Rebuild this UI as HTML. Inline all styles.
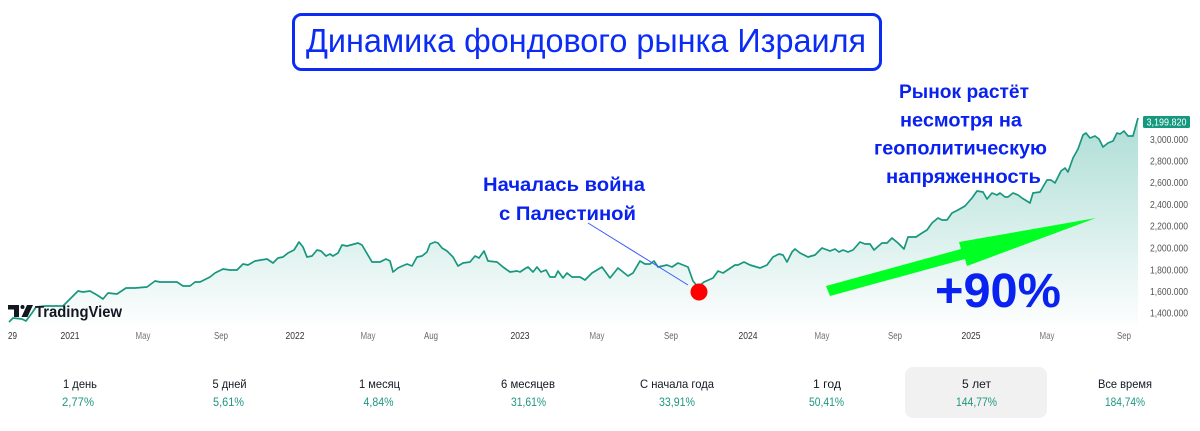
<!DOCTYPE html>
<html><head><meta charset="utf-8"><style>
html,body{margin:0;padding:0;background:#fff;}
svg{display:block;}
text{font-family:"Liberation Sans","DejaVu Sans",sans-serif;}
</style></head><body>
<svg width="1200" height="431" viewBox="0 0 1200 431" xmlns="http://www.w3.org/2000/svg">
<defs>
<linearGradient id="g" x1="0" y1="118" x2="0" y2="325" gradientUnits="userSpaceOnUse">
<stop offset="0" stop-color="#089981" stop-opacity="0.33"/>
<stop offset="1" stop-color="#089981" stop-opacity="0.01"/>
</linearGradient>
</defs>
<rect width="1200" height="431" fill="#fff"/>

<!-- area -->
<path fill="url(#g)" d="M9,322 L13,318 22,319 26,321 32,313 36,307 45,306 55,306 63,306 72,297 78,291 83,292 90,291 97,295 103,299 108,293 117,294 126,288 135,288 147,287 155,281 160,282 177,282 183,286 190,286 195,282 200,282 210,277 215,273 223,269 230,270 237,270 243,264 248,265 255,261 267,259 273,263 278,258 283,257 288,253 294,250 299,242 303,247 307,257 312,256 317,250 321,251 326,256 330,254 333,256 338,253 342,245 347,246 358,243 362,245 372,262 380,262 386,259 390,261 393,272 398,268 400,267 407,264 412,266 417,257 422,256 427,252 430,244 435,242 438,243 442,248 447,251 453,257 458,266 463,263 470,262 475,256 479,258 484,251 488,261 497,262 503,267 510,272 517,271 520,272 526,268 528,267 533,272 537,267 541,272 546,270 550,277 555,277 558,271 563,278 567,273 572,277 580,277 585,280 592,273 602,267 610,278 618,268 628,276 633,273 640,261 645,264 650,264 654,261 658,267 667,265 672,267 678,263 683,265 688,267 693,281 698,287 704,282 713,278 718,271 723,273 735,265 738,265 744,262 750,265 760,268 767,265 773,257 779,254 783,255 787,262 792,252 795,249 800,253 808,257 815,255 822,248 830,251 835,249 839,252 843,250 848,252 853,250 860,242 865,244 870,244 874,250 882,243 887,243 892,238 898,243 904,249 908,237 916,237 922,233 927,230 932,223 938,218 942,220 947,220 952,213 958,210 965,206 972,198 977,191 983,192 987,199 992,193 997,195 1000,193 1005,197 1008,197 1013,193 1018,195 1022,198 1030,203 1033,193 1040,192 1047,180 1051,180 1055,183 1061,171 1065,168 1068,172 1073,158 1078,149 1083,135 1086,133 1090,138 1095,136 1099,139 1103,147 1108,143 1113,141 1117,133 1120,134 1124,131 1128,136 1133,136 1138,118 L1138,325 L9,325 Z"/>
<!-- line -->
<path fill="none" stroke="#17977e" stroke-width="1.7" stroke-linejoin="round" d="M9,322 L13,318 22,319 26,321 32,313 36,307 45,306 55,306 63,306 72,297 78,291 83,292 90,291 97,295 103,299 108,293 117,294 126,288 135,288 147,287 155,281 160,282 177,282 183,286 190,286 195,282 200,282 210,277 215,273 223,269 230,270 237,270 243,264 248,265 255,261 267,259 273,263 278,258 283,257 288,253 294,250 299,242 303,247 307,257 312,256 317,250 321,251 326,256 330,254 333,256 338,253 342,245 347,246 358,243 362,245 372,262 380,262 386,259 390,261 393,272 398,268 400,267 407,264 412,266 417,257 422,256 427,252 430,244 435,242 438,243 442,248 447,251 453,257 458,266 463,263 470,262 475,256 479,258 484,251 488,261 497,262 503,267 510,272 517,271 520,272 526,268 528,267 533,272 537,267 541,272 546,270 550,277 555,277 558,271 563,278 567,273 572,277 580,277 585,280 592,273 602,267 610,278 618,268 628,276 633,273 640,261 645,264 650,264 654,261 658,267 667,265 672,267 678,263 683,265 688,267 693,281 698,287 704,282 713,278 718,271 723,273 735,265 738,265 744,262 750,265 760,268 767,265 773,257 779,254 783,255 787,262 792,252 795,249 800,253 808,257 815,255 822,248 830,251 835,249 839,252 843,250 848,252 853,250 860,242 865,244 870,244 874,250 882,243 887,243 892,238 898,243 904,249 908,237 916,237 922,233 927,230 932,223 938,218 942,220 947,220 952,213 958,210 965,206 972,198 977,191 983,192 987,199 992,193 997,195 1000,193 1005,197 1008,197 1013,193 1018,195 1022,198 1030,203 1033,193 1040,192 1047,180 1051,180 1055,183 1061,171 1065,168 1068,172 1073,158 1078,149 1083,135 1086,133 1090,138 1095,136 1099,139 1103,147 1108,143 1113,141 1117,133 1120,134 1124,131 1128,136 1133,136 1138,118"/>

<!-- TradingView logo -->
<g fill="#131722">
<path d="M8,305 H19 V317 H14 V309.5 H8 Z"/>
<circle cx="22.5" cy="307" r="2"/>
<path d="M27,305 H33 L27.5,317 H21.5 Z"/>
</g>
<text x="35" y="317" font-size="16" font-weight="bold" fill="#131722" textLength="87" lengthAdjust="spacingAndGlyphs">TradingView</text>

<!-- Y axis -->
<g font-size="10" fill="#555" text-anchor="end">
<text x="1188" y="143" textLength="38" lengthAdjust="spacingAndGlyphs">3,000.000</text>
<text x="1188" y="164.5" textLength="38" lengthAdjust="spacingAndGlyphs">2,800.000</text>
<text x="1188" y="186" textLength="38" lengthAdjust="spacingAndGlyphs">2,600.000</text>
<text x="1188" y="208" textLength="38" lengthAdjust="spacingAndGlyphs">2,400.000</text>
<text x="1188" y="229.5" textLength="38" lengthAdjust="spacingAndGlyphs">2,200.000</text>
<text x="1188" y="251.5" textLength="38" lengthAdjust="spacingAndGlyphs">2,000.000</text>
<text x="1188" y="273.5" textLength="38" lengthAdjust="spacingAndGlyphs">1,800.000</text>
<text x="1188" y="295" textLength="38" lengthAdjust="spacingAndGlyphs">1,600.000</text>
<text x="1188" y="316.5" textLength="38" lengthAdjust="spacingAndGlyphs">1,400.000</text>
</g>
<rect x="1143" y="116" width="47" height="12" rx="1.5" fill="#14997f"/>
<text x="1166.5" y="125.5" font-size="10" fill="#fff" text-anchor="middle" textLength="40" lengthAdjust="spacingAndGlyphs">3,199.820</text>

<!-- X axis -->
<g font-size="10" text-anchor="middle">
<text x="12.5" y="339" fill="#333" textLength="9" lengthAdjust="spacingAndGlyphs">29</text>
<text x="70" y="339" fill="#333" textLength="19" lengthAdjust="spacingAndGlyphs">2021</text>
<text x="143" y="339" fill="#777" textLength="15" lengthAdjust="spacingAndGlyphs">May</text>
<text x="221" y="339" fill="#666" textLength="14" lengthAdjust="spacingAndGlyphs">Sep</text>
<text x="295" y="339" fill="#333" textLength="19" lengthAdjust="spacingAndGlyphs">2022</text>
<text x="368" y="339" fill="#777" textLength="15" lengthAdjust="spacingAndGlyphs">May</text>
<text x="431" y="339" fill="#666" textLength="14" lengthAdjust="spacingAndGlyphs">Aug</text>
<text x="520" y="339" fill="#333" textLength="19" lengthAdjust="spacingAndGlyphs">2023</text>
<text x="597" y="339" fill="#777" textLength="15" lengthAdjust="spacingAndGlyphs">May</text>
<text x="671" y="339" fill="#666" textLength="14" lengthAdjust="spacingAndGlyphs">Sep</text>
<text x="748" y="339" fill="#333" textLength="19" lengthAdjust="spacingAndGlyphs">2024</text>
<text x="822" y="339" fill="#777" textLength="15" lengthAdjust="spacingAndGlyphs">May</text>
<text x="895" y="339" fill="#666" textLength="14" lengthAdjust="spacingAndGlyphs">Sep</text>
<text x="971" y="339" fill="#333" textLength="19" lengthAdjust="spacingAndGlyphs">2025</text>
<text x="1047" y="339" fill="#777" textLength="15" lengthAdjust="spacingAndGlyphs">May</text>
<text x="1124" y="339" fill="#666" textLength="14" lengthAdjust="spacingAndGlyphs">Sep</text>
</g>

<!-- Title -->
<rect x="293.5" y="14.5" width="587" height="55" rx="8" fill="#fff" stroke="#0a2cf5" stroke-width="3"/>
<text x="306" y="52" font-size="33.5" fill="#0a2cf5" textLength="560" lengthAdjust="spacingAndGlyphs">Динамика фондового рынка Израиля</text>

<!-- annotation: war -->
<g font-size="19.5" font-weight="bold" fill="#0a22f0">
<text x="483" y="191" textLength="162" lengthAdjust="spacingAndGlyphs">Началась война</text>
<text x="499" y="220" textLength="137" lengthAdjust="spacingAndGlyphs">с Палестиной</text>
</g>
<line x1="588" y1="223" x2="688" y2="285" stroke="#3a5cff" stroke-width="1"/>
<circle cx="699" cy="292" r="8.5" fill="#ff0000"/>

<!-- annotation: rising -->
<g font-size="19.5" font-weight="bold" fill="#0a22f0">
<text x="899" y="98" textLength="130" lengthAdjust="spacingAndGlyphs">Рынок растёт</text>
<text x="900" y="126.5" textLength="122" lengthAdjust="spacingAndGlyphs">несмотря на</text>
<text x="874" y="154.5" textLength="173" lengthAdjust="spacingAndGlyphs">геополитическую</text>
<text x="886" y="183" textLength="155" lengthAdjust="spacingAndGlyphs">напряженность</text>
</g>

<!-- green arrow -->
<polygon points="826,286 961,249 959,242 1096,218 967,266 965,259 830,296" fill="#00ff22"/>
<text x="935" y="307" font-size="48" font-weight="bold" fill="#0a22f0" textLength="126" lengthAdjust="spacingAndGlyphs">+90%</text>

<!-- stats -->
<rect x="905" y="367" width="142" height="51" rx="8" fill="#f1f1f1"/>
<g font-size="12" fill="#131722" text-anchor="middle">
<text x="80" y="388" textLength="34" lengthAdjust="spacingAndGlyphs">1 день</text>
<text x="229.5" y="388" textLength="34" lengthAdjust="spacingAndGlyphs">5 дней</text>
<text x="379.5" y="388" textLength="41" lengthAdjust="spacingAndGlyphs">1 месяц</text>
<text x="528" y="388" textLength="54" lengthAdjust="spacingAndGlyphs">6 месяцев</text>
<text x="677" y="388" textLength="74" lengthAdjust="spacingAndGlyphs">С начала года</text>
<text x="827" y="388" textLength="28" lengthAdjust="spacingAndGlyphs">1 год</text>
<text x="976.5" y="388" textLength="29" lengthAdjust="spacingAndGlyphs">5 лет</text>
<text x="1125" y="388" textLength="54" lengthAdjust="spacingAndGlyphs">Все время</text>
</g>
<g font-size="12" fill="#1f9680" text-anchor="middle">
<text x="78" y="406" textLength="32" lengthAdjust="spacingAndGlyphs">2,77%</text>
<text x="228.5" y="406" textLength="31" lengthAdjust="spacingAndGlyphs">5,61%</text>
<text x="378.5" y="406" textLength="30" lengthAdjust="spacingAndGlyphs">4,84%</text>
<text x="528.5" y="406" textLength="35" lengthAdjust="spacingAndGlyphs">31,61%</text>
<text x="677" y="406" textLength="36" lengthAdjust="spacingAndGlyphs">33,91%</text>
<text x="826.5" y="406" textLength="35" lengthAdjust="spacingAndGlyphs">50,41%</text>
<text x="976.5" y="406" textLength="41" lengthAdjust="spacingAndGlyphs">144,77%</text>
<text x="1125" y="406" textLength="40" lengthAdjust="spacingAndGlyphs">184,74%</text>
</g>
</svg>
</body></html>
